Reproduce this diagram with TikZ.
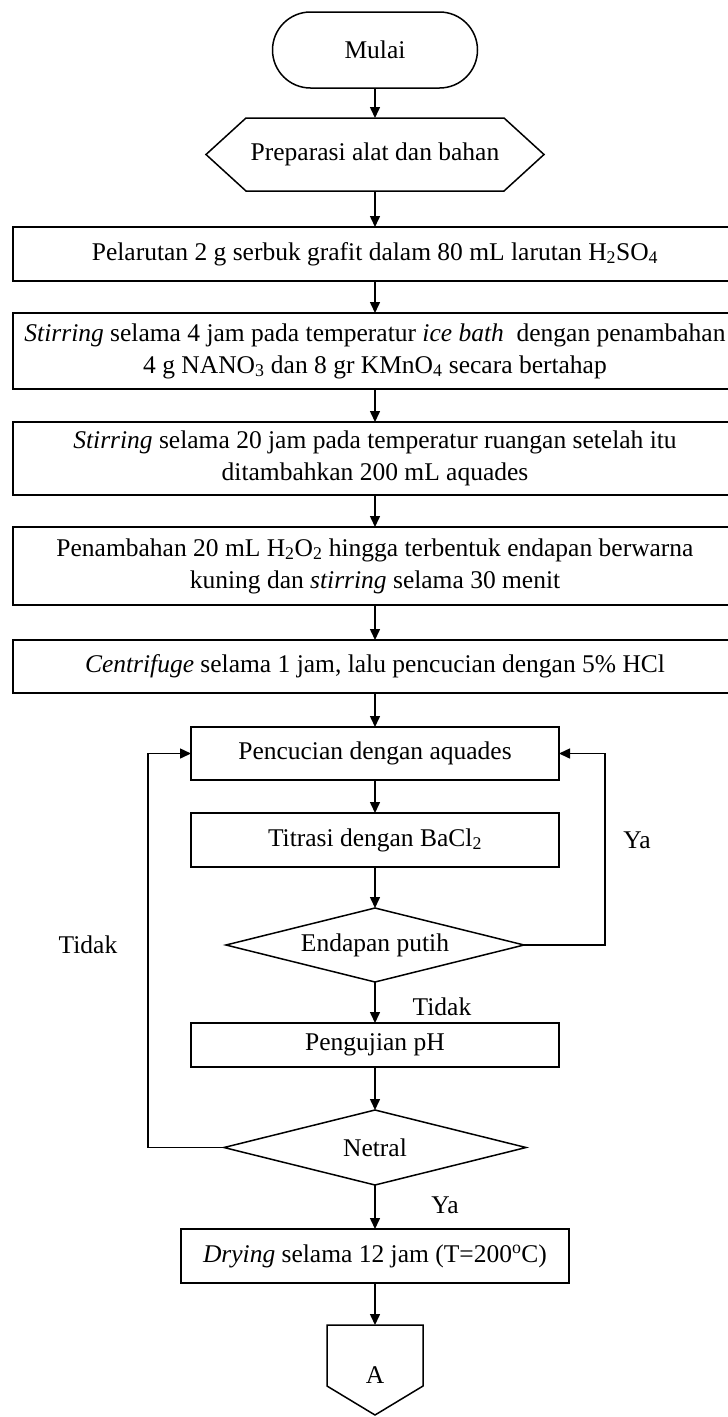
\documentclass[tikz,border=0pt]{standalone}
\usepackage{fontspec}
\setmainfont{Liberation Serif}
\usetikzlibrary{arrows.meta}
\tikzset{
  base/.style={font=\fontsize{25.5}{32}\selectfont, inner sep=0pt, outer sep=0pt, align=center},
  procbox/.style={base, draw, line width=1.5pt, rectangle, minimum width=#1},
  shapeonly/.style={base, rectangle, draw=none},
  outline/.style={line width=1.5pt, line join=miter},
  arr/.style={line width=1.5pt, -{Triangle[length=11pt,width=10pt]}},
  lbl/.style={font=\fontsize{25.5}{32}\selectfont, inner sep=0pt}
}
\begin{document}
\begin{tikzpicture}[x=1pt,y=-1pt]
\useasboundingbox (0,0) rectangle (728,1417);
% start terminal
\node[base, draw, line width=1.5pt, rounded corners=38pt, minimum width=205pt, minimum height=76pt] (start) at (375,50) {Mulai};
% preparation hexagon
\node[shapeonly, minimum width=338pt, minimum height=73pt] (prep) at (375,154.5) {Preparasi alat dan bahan};
\draw[outline] (prep.west) -- ([xshift=40pt]prep.north west) -- ([xshift=-40pt]prep.north east) -- (prep.east) -- ([xshift=-40pt]prep.south east) -- ([xshift=40pt]prep.south west) -- cycle;
% wide process boxes
\node[procbox=724pt, minimum height=54pt] (b1) at (375,254) {Pelarutan 2 g serbuk grafit dalam 80 mL larutan H\textsubscript{2}SO\textsubscript{4}};
\node[procbox=724pt, minimum height=76pt] (b2) at (375,351) {\textit{Stirring} selama 4 jam pada temperatur \textit{ice bath}\ \ dengan penambahan\\4 g NANO\textsubscript{3} dan 8 gr KMnO\textsubscript{4} secara bertahap};
\node[procbox=724pt, minimum height=73pt] (b3) at (375,458.5) {\textit{Stirring} selama 20 jam pada temperatur ruangan setelah itu\\ditambahkan 200 mL aquades};
\node[procbox=724pt, minimum height=78pt] (b4) at (375,566) {Penambahan 20 mL H\textsubscript{2}O\textsubscript{2} hingga terbentuk endapan berwarna\\kuning dan \textit{stirring} selama 30 menit};
\node[procbox=724pt, minimum height=53pt] (b5) at (375,666.5) {\textit{Centrifuge} selama 1 jam, lalu pencucian dengan 5\% HCl};
% washing loop
\node[procbox=368pt, minimum height=53pt] (wash) at (375,753.5) {Pencucian dengan aquades};
\node[procbox=368pt, minimum height=54pt] (titr) at (375,840) {Titrasi dengan BaCl\textsubscript{2}};
\node[shapeonly, minimum width=298pt, minimum height=74pt] (endp) at (375,945) {Endapan putih};
\draw[outline] (endp.north) -- (endp.east) -- (endp.south) -- (endp.west) -- cycle;
\node[procbox=368pt, minimum height=44pt] (ph) at (375,1045) {Pengujian pH};
\node[shapeonly, minimum width=302pt, minimum height=75pt] (netral) at (375,1147.5) {Netral};
\draw[outline] (netral.north) -- (netral.east) -- (netral.south) -- (netral.west) -- cycle;
\node[procbox=388pt, minimum height=54pt] (dry) at (375,1256) {\textit{Drying} selama 12 jam (T=200\textsuperscript{o}C)};
% off-page connector
\node[shapeonly, minimum width=96pt, minimum height=90pt] (offA) at (375,1370) {};
\draw[outline] (offA.north west) -- (offA.north east) -- ([yshift=29pt]offA.south east) -- (offA.south) -- ([yshift=29pt]offA.south west) -- cycle;
\node[lbl] (Alabel) at (375,1375) {A};
% main flow arrows
\draw[arr] (start) -- (prep);
\draw[arr] (prep) -- (b1);
\draw[arr] (b1) -- (b2);
\draw[arr] (b2) -- (b3);
\draw[arr] (b3) -- (b4);
\draw[arr] (b4) -- (b5);
\draw[arr] (b5) -- (wash);
\draw[arr] (wash) -- (titr);
\draw[arr] (titr.south) -- (endp.north);
\draw[arr] (endp.south) -- (ph.north);
\draw[arr] (ph.south) -- (netral.north);
\draw[arr] (netral.south) -- (dry.north);
\draw[arr] (dry.south) -- (offA.north);
% loops
\coordinate (rloop) at (605,945);
\coordinate (lloop) at (148,1147.5);
\draw[arr] (endp.east) -- (rloop) |- (wash.east);
\draw[arr] (netral.west) -- (lloop) |- (wash.west);
% labels
\node[lbl] (ya1) at (637,840) {Ya};
\node[lbl] (tidak1) at (88,945) {Tidak};
\node[lbl] (tidak2) at (442,1007) {Tidak};
\node[lbl] (ya2) at (445,1205) {Ya};
\end{tikzpicture}
\end{document}
